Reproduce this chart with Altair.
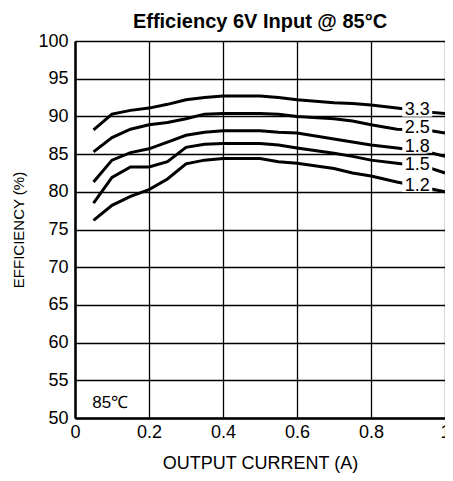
import altair as alt
import pandas as pd

x_vals = [0.05, 0.1, 0.15, 0.2, 0.25, 0.3, 0.35, 0.4, 0.5, 0.55, 0.6, 0.7, 0.75, 0.8, 0.87, 0.95, 1.0]
eff_33 = [88.2, 90.3, 90.8, 91.1, 91.6, 92.2, 92.5, 92.7, 92.7, 92.5, 92.2, 91.8, 91.7, 91.5, 91.1, 90.6, 90.4]
eff_25 = [85.3, 87.2, 88.3, 88.9, 89.2, 89.7, 90.3, 90.4, 90.4, 90.3, 90.0, 89.7, 89.4, 88.9, 88.3, 88.2, 87.8]
eff_18 = [81.3, 84.2, 85.2, 85.7, 86.6, 87.5, 87.9, 88.1, 88.1, 87.9, 87.8, 87.0, 86.6, 86.2, 85.8, 85.3, 84.7]
eff_15 = [78.5, 81.9, 83.3, 83.3, 84.0, 85.9, 86.3, 86.4, 86.4, 86.2, 85.8, 85.1, 84.7, 84.2, 83.8, 83.3, 82.5]
eff_12 = [76.2, 78.2, 79.4, 80.3, 81.7, 83.7, 84.2, 84.4, 84.4, 84.0, 83.8, 83.1, 82.5, 82.1, 81.3, 80.5, 80.0]

series_names = ["3.3", "2.5", "1.8", "1.5", "1.2"]
series_vals = [eff_33, eff_25, eff_18, eff_15, eff_12]

label_x = [0.925, 0.925, 0.925, 0.925, 0.925]
label_y = [90.8, 88.5, 86.0, 83.6, 80.8]

note_text = ["85℃"]
note_x = [0.095]
note_y = [52.0]

rows = []
for name, vals in zip(series_names, series_vals):
    for xv, yv in zip(x_vals, vals):
        rows.append({"current": xv, "eff": yv, "vout": name})
df = pd.DataFrame(rows)

lab_df = pd.DataFrame({"current": label_x, "eff": label_y, "vout": series_names})
note_df = pd.DataFrame({"current": note_x, "eff": note_y, "txt": note_text})

FONT = "Liberation Sans"

xscale = alt.Scale(domain=[0, 1], nice=False)
yscale = alt.Scale(domain=[50, 100], nice=False, zero=False)

common = dict(grid=True, gridColor="#000000", gridWidth=1.3, gridOpacity=1,
              tickSize=0, labelFontSize=18, titleFontWeight="normal",
              labelColor="#000", titleColor="#000", domainColor="#000", domainWidth=2.5,
              labelFont=FONT, titleFont=FONT, labelOverlap=False, labelFlush=False)

x_axis = alt.Axis(values=[0, 0.2, 0.4, 0.6, 0.8, 1.0], format="~g", title="OUTPUT CURRENT (A)",
                  labelPadding=5, titlePadding=13, titleFontSize=18, **common)
y_axis = alt.Axis(values=list(range(50, 101, 5)), title="EFFICIENCY (%)",
                  labelPadding=7, titlePadding=11, titleFontSize=15, **common)

enc_x = alt.X("current:Q", scale=xscale, axis=x_axis)
enc_y = alt.Y("eff:Q", scale=yscale, axis=y_axis)

lines = alt.Chart(df).mark_line(color="black", strokeWidth=3).encode(
    x=enc_x, y=enc_y, detail="vout:N",
)
patch = alt.Chart(lab_df).mark_point(
    shape="M-1,-0.42L1,-0.42L1,0.42L-1,0.42Z", size=900, filled=True,
    fill="white", color="white", opacity=1, strokeWidth=0,
).encode(x=enc_x, y=enc_y)
labels = alt.Chart(lab_df).mark_text(font=FONT, fontSize=18, color="black",
                                     align="center", baseline="middle").encode(
    x=enc_x, y=enc_y, text="vout:N")
note = alt.Chart(note_df).mark_text(font=FONT, fontSize=17, color="black",
                                    align="center", baseline="middle").encode(
    x=enc_x, y=enc_y, text="txt:N")

chart = alt.layer(lines, patch, labels, note).properties(
    width=370, height=377,
    background="white",
    autosize=alt.AutoSizeParams(type="none"),
    padding={"left": 67, "top": 33, "right": 0, "bottom": 55},
    title=alt.TitleParams("Efficiency 6V Input @ 85°C", font=FONT, fontSize=20, fontWeight="bold",
                          color="#000", offset=0, anchor="middle", frame="group"),
).configure_view(strokeWidth=0)

chart.save("out.html", embed_options={"renderer": "svg", "actions": False})
